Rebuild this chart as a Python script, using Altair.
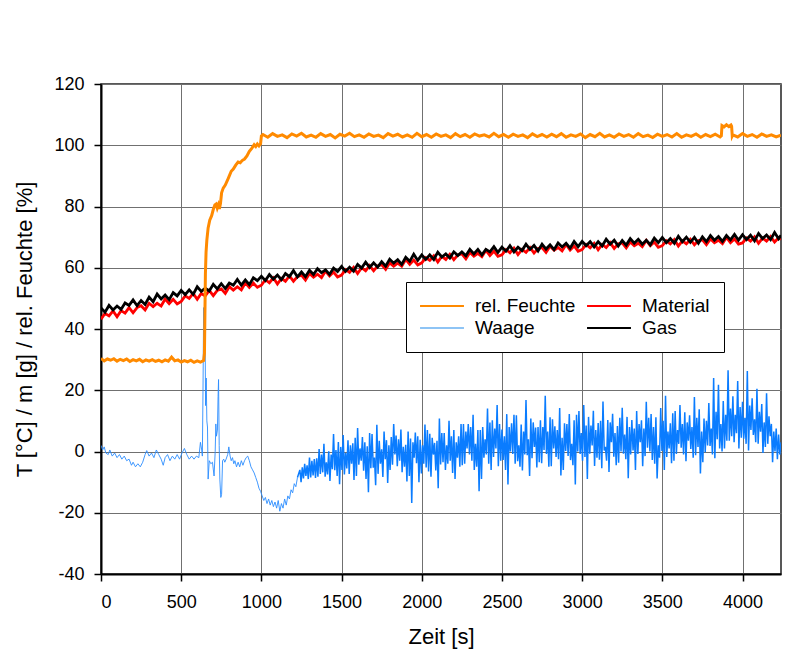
import altair as alt
import pandas as pd

# ---------------- data ----------------
# rel. Feuchte [%]
feuchte_pre = [30.4, 29.6, 30.2, 29.8, 30.3, 29.5, 30.1, 29.7, 30.2, 29.4,
               30.0, 29.6, 30.1, 29.3, 29.9, 29.5, 30.0, 29.4, 29.8, 29.3,
               29.9, 29.5, 30.8, 29.6, 29.9, 29.2, 29.7, 29.3, 29.8, 29.1,
               29.6, 29.2, 29.7]                      # t = 0 .. 640, every 20 s
feuchte_ramp_t = [645, 648, 651, 655, 660, 668, 678, 690, 700, 710, 718, 725, 732, 738,
                  745, 752, 762, 775, 788, 800, 812, 825, 840, 855, 868, 880, 895, 910,
                  925, 940, 955, 965, 975, 985, 995, 1000]
feuchte_ramp_v = [32.0, 45.0, 58.0, 65.0, 69.0, 73.0, 75.5, 77.0, 79.0, 80.5, 80.8, 79.5, 80.5, 79.2,
                  81.0, 84.5, 86.0, 87.0, 88.5, 90.0, 91.5, 92.2, 93.5, 94.5, 94.3, 95.0, 95.5, 96.5,
                  98.0, 99.0, 100.2, 99.6, 100.4, 99.8, 100.5, 103.0]
feuchte_flat = [103.5, 102.6, 103.8, 102.9, 103.4, 102.5, 103.7, 103.0, 103.9, 102.7, 103.3, 102.6,
                103.8, 102.9, 103.5, 102.4, 103.6, 103.0, 103.9, 102.8, 103.4, 102.6, 103.7, 102.9,
                103.3, 102.5, 103.8, 103.0, 103.6, 102.7, 103.4, 102.6, 103.9, 102.8, 103.5, 102.6,
                103.7, 102.9, 103.4, 102.5, 103.8, 102.8, 103.5, 102.6, 103.7, 103.0, 103.4, 102.7,
                103.9, 102.8, 103.5, 102.6, 103.6, 102.9, 103.4, 102.5, 103.7, 102.8, 103.5, 102.7,
                103.6, 102.8, 103.8, 102.6, 103.4, 102.9, 103.7, 102.5, 103.5, 102.8, 103.9, 102.7,
                103.4, 102.6, 103.7, 102.9, 103.5, 102.6, 103.8, 102.8, 103.3, 102.5, 103.6, 102.9,
                103.5, 102.7, 103.8, 102.6, 103.4, 102.9, 103.7, 102.6, 103.5, 102.8, 103.6, 102.7]  # t = 1010 .. 3860, every 30 s
feuchte_step_t = [3868, 3872, 3885, 3900, 3915, 3928, 3932, 3936]
feuchte_step_v = [103.1, 106.4, 106.0, 106.7, 106.1, 106.6, 106.2, 103.0]
feuchte_post = [103.4, 102.7, 103.8, 102.9, 103.5, 102.6, 103.7, 102.9, 103.4, 102.7, 103.3]  # t = 3940 .. 4240

# Gas [°C], every 25 s from 0 to 4225, then 4240
gas = [46.9, 45.5, 47.7, 46.2, 47.5, 46.4, 48.5, 47.7, 49.5, 47.6,
       49.3, 48.0, 50.4, 48.9, 51.4, 49.8, 51.1, 49.6, 51.9, 50.8,
       52.6, 51.2, 52.8, 51.3, 53.8, 52.3, 53.3, 52.4, 54.6, 53.1,
       54.8, 53.2, 55.0, 54.3, 56.2, 54.3, 56.0, 54.5, 56.7, 55.8,
       57.2, 55.8, 57.8, 56.3, 57.6, 56.1, 58.1, 57.1, 59.1, 57.0,
       58.6, 57.1, 59.2, 57.8, 59.7, 58.4, 59.3, 57.8, 59.9, 58.8,
       60.4, 58.8, 60.2, 58.9, 61.1, 59.9, 61.8, 60.1, 61.6, 60.2,
       62.0, 60.5, 62.8, 61.5, 62.6, 61.1, 63.4, 62.1, 64.4, 62.4,
       64.2, 62.7, 64.2, 62.7, 65.1, 63.5, 64.5, 63.2, 65.2, 64.0,
       65.2, 63.9, 66.0, 64.5, 66.0, 64.2, 66.0, 65.2, 66.9, 65.0,
       66.7, 65.4, 67.2, 65.2, 66.7, 65.6, 67.7, 66.0, 67.3, 65.5,
       67.7, 66.1, 67.5, 65.9, 68.1, 66.8, 68.0, 66.4, 68.6, 66.9,
       68.6, 67.2, 68.5, 66.8, 68.5, 67.1, 69.3, 67.7, 69.0, 67.1,
       68.9, 67.4, 69.5, 68.0, 69.3, 67.7, 69.0, 67.5, 69.7, 68.2,
       69.9, 68.2, 69.5, 68.0, 70.3, 68.5, 70.0, 68.3, 69.9, 68.0,
       70.1, 68.5, 70.5, 69.0, 70.2, 68.6, 70.5, 69.1, 70.9, 69.0,
       70.8, 69.2, 70.6, 68.8, 71.2, 69.5, 70.7, 69.2, 71.5, 69.5]
gas_end = 70.6

# Material [°C], same time grid
material = [43.2, 45.1, 44.3, 45.9, 44.0, 46.0, 45.2, 47.0, 45.3, 47.0,
            47.6, 46.2, 48.4, 47.3, 48.4, 47.5, 49.8, 48.3, 49.7, 48.2,
            49.0, 50.8, 50.0, 51.6, 49.7, 51.6, 50.8, 52.6, 50.9, 52.6,
            53.1, 51.6, 53.8, 52.7, 53.8, 52.8, 55.1, 53.6, 55.0, 53.6,
            54.3, 56.1, 55.1, 56.7, 54.7, 56.5, 55.6, 57.3, 55.6, 57.1,
            57.6, 56.0, 58.1, 56.9, 57.9, 56.8, 58.9, 57.3, 58.6, 57.0,
            57.6, 59.4, 58.5, 60.1, 58.1, 60.0, 59.0, 60.7, 59.0, 60.6,
            61.0, 59.5, 61.6, 60.5, 61.5, 60.5, 62.7, 61.1, 62.5, 60.9,
            61.6, 63.3, 62.4, 63.9, 61.9, 63.7, 62.7, 64.4, 62.6, 64.2,
            64.5, 62.9, 65.0, 63.8, 64.7, 63.6, 65.7, 64.0, 65.4, 63.7,
            64.2, 65.9, 64.9, 66.4, 64.3, 66.0, 65.0, 66.6, 64.8, 66.3,
            66.6, 65.0, 67.0, 65.7, 66.6, 65.5, 67.6, 65.8, 67.1, 65.4,
            65.9, 67.6, 66.5, 68.0, 65.9, 67.6, 66.6, 68.2, 66.3, 67.8,
            68.1, 66.5, 68.4, 67.2, 68.0, 66.9, 68.9, 67.2, 68.4, 66.7,
            67.2, 68.8, 67.8, 69.2, 67.1, 68.8, 67.8, 69.3, 67.5, 68.9,
            69.1, 67.5, 69.4, 68.2, 69.0, 67.9, 69.9, 68.2, 69.4, 67.7,
            68.1, 69.7, 68.7, 70.1, 68.0, 69.7, 68.7, 70.2, 68.4, 69.8]
material_end = 69.3

# Waage [g]
waage_early = [
    (0, 2.0), (10, 0.5), (20, 1.5), (30, -0.5), (45, -1.0), (55, 0.5), (70, -1.5), (85, -0.5), (100, -2.0), (115, -1.0),
    (130, -2.5), (145, -1.5), (160, -3.0), (175, -2.5), (190, -4.5), (200, -3.5), (215, -5.0), (230, -4.0), (245, -5.0), (260, -3.5),
    (275, -1.0), (285, 0.3), (300, -1.5), (315, -0.5), (330, -2.0), (345, 0.5), (360, -1.0), (375, -2.5), (388, -4.5), (400, -2.0),
    (415, -1.0), (430, -3.0), (445, -1.5), (460, -2.5), (475, -1.0), (490, -2.5), (505, -0.5), (520, 1.0), (535, -1.0), (550, -2.5),
    (565, -1.5), (580, -2.5), (595, -1.5), (610, -2.0), (620, 3.0), (628, 0.5), (632, -1.5), (636, 20.0), (640, 47.0), (644, 30.0),
    (648, 48.0), (652, 15.0), (656, 24.0), (660, 10.0), (664, 8.0), (668, -9.0), (675, -3.0), (685, -4.0), (695, -3.5), (705, -8.0),
    (712, 0.0), (716, 9.0), (720, 5.0), (726, 7.0), (730, 18.0), (733, 23.5), (737, 2.0), (741, -9.0), (747, -15.0), (752, -14.0),
    (758, -3.0), (765, -2.5), (772, -3.5), (780, -2.5), (790, -1.0), (797, 1.5), (805, -1.5), (812, -3.0), (820, -2.0), (828, -4.0),
    (835, -3.0), (845, -5.0), (855, -3.5), (865, -5.0), (875, -3.0), (885, -4.5), (895, -3.0), (905, -2.0), (915, -1.5), (925, -3.0),
    (935, -5.0), (945, -6.0), (955, -7.0), (965, -8.5), (975, -10.0), (985, -12.0), (995, -13.0), (1005, -14.5), (1015, -16.0), (1025, -15.0),
    (1035, -17.0), (1045, -15.5), (1055, -17.5), (1065, -16.0), (1075, -18.0), (1085, -16.5), (1095, -18.5), (1105, -16.0), (1115, -19.5), (1125, -17.0),
    (1135, -18.5), (1145, -15.5), (1155, -17.5), (1165, -14.5), (1175, -15.5), (1185, -12.5), (1195, -13.5), (1205, -10.5), (1215, -11.5), (1225, -8.5),
]
# readings every 7.5 s from t = 1240 to 4232.5 (10 blocks of 300 s)
waage_noisy = [
    -6, -10, -5.2, -8.8, -4, -8, -4.5, -9.0, -2, -8.5, -3.0, -7.8, -2.5, -8.6, -2.2, -8.2, 0.8, -7.3, -1.0, -6.8,
    2.5, -8.2, -3.5, -7.5, 0.1, -9.6, -1.0, -5.8, 5.7, -6.1, 0.5, -8.0, 3.1, -10.7, 1.5, -6.0, 5.4, -7.5, -0.5, -5.5,

    3.7, -7.3, 2.0, -4.0, 2.7, -9.3, 4.5, -8.0, 7.7, -4.3, 1.0, -3.0, 4.7, -6.3, 3.0, -9.0, 1.7, -13.3, 6.0, -5.5,
    5.7, -5.3, -2.0, -11.0, 8.7, -7.3, 3.5, -4.0, 0.7, -8.3, 6.5, -2.5, 3.7, -10.3, 2.0, -6.0, 4.7, -4.3, 9.0, -1.0,

    5.2, -4.8, 4.0, -3.0, 7.2, -6.8, 1.5, -5.0, 2.2, -9.8, 6.5, -8.0, 4.2, -16.8, 3.0, -2.0, 6.2, -3.8, 5.0, -10.0,
    3.8, -7.2, 2.0, -4.0, 8.8, -5.2, 7.0, -6.5, 5.8, -8.2, 4.5, -1.0, 2.8, -6.2, 3.5, -12.0, 10.8, -4.2, 6.0, -3.5,

    6, -6, 2.0, -4.0, 10, -3, 5.0, -7.0, 7, -9, 3.0, -2.0, 5, -5, 9.0, -4.5, 9, -4, 6.5, 1.0,
    9, -1, 8.0, -3.0, 12, -6, 2.5, -5.0, 7, -13, 7.0, -9.0, 8, -2, 4.0, -1.0, 14, -4, 9.5, -6.0,

    10.2, -1.8, 7.5, 1.0, 15.2, -4.8, 9.0, -3.0, 7.2, -2.8, 5.0, -6.0, 12.2, -10.8, 8.0, 0.0, 9.2, -0.8, 12.0, -4.0,
    11.8, -3.2, 2.0, -5.0, 8.8, -6.2, 6.5, -1.0, 16.8, -1.2, 4.0, -8.0, 10.8, -2.2, 9.5, 1.5, 7.8, -5.2, 8.0, -3.5,

    10.2, -3.8, 8.0, 0.5, 18.2, -0.8, 6.5, -5.0, 11.2, -4.8, 10.5, 1.0, 8.2, -1.8, 7.0, -2.5, 14.2, -7.8, 4.5, -6.0,
    9.2, 0.2, 9.0, -1.5, 12.2, -2.8, 2.5, -4.5, 10.2, -10.8, 12.0, 0.0, 13.2, -0.8, 6.0, -3.0, 15.2, -1.8, 8.5, -9.0,

    11.3, -0.7, 8.5, 2.0, 13.3, -4.7, 7.0, -2.0, 9.3, -2.7, 10.0, -5.5, 16.3, 0.3, 1.5, -3.0, 10.3, -6.7, 9.5, 3.0,
    12.3, -1.7, 6.0, -4.5, 8.3, -3.7, 11.0, 0.0, 14.3, -0.7, 5.5, -2.5, 11.3, -8.7, 8.0, -1.0, 10.3, 0.3, 7.5, -6.0,

    13.2, -0.8, 9.0, 3.0, 10.2, -4.8, 7.5, -1.5, 16.2, 1.2, 11.0, 0.0, 12.2, -2.8, 8.0, -4.0, 11.2, -8.8, 2.0, -2.0,
    14.2, 0.2, 10.0, -6.0, 18.2, -1.8, 6.5, 1.0, 9.2, -3.8, 12.5, -3.0, 13.2, -0.8, 7.0, 2.5, 15.2, 1.2, 9.0, -1.0,

    12.8, -3.2, 9.5, 3.5, 11.8, 0.8, 8.0, -2.0, 17.8, -1.2, 11.0, 1.5, 13.8, -7.2, 6.5, -3.5, 10.8, -0.2, 10.0, 2.0,
    15.8, 1.8, 7.5, -1.0, 24.0, -2.2, 13.0, 4.0, 21.8, 1.0, 9.0, 0.0, 16.5, 1.0, 12.0, 3.5, 26.5, 3.5, 14.0, 5.0,

    18, 3, 12.0, 6.0, 23, 1, 14.5, 4.5, 16.2, 4.2, 11.0, 2.5, 26.3, 0.3, 15.0, 7.0, 17.4, 5.4, 10.5, 3.0,
    20.5, 2.5, 13.0, 6.5, 15.5, -0.5, 9.5, 1.5, 19, 2.5, 11.5, 5.0, 9, -3.5, 6.5, 0.0, 7.5, -2.5, 5.5, -1.0,
]
waage_tail = [(4240, 3.0)]

# legend order is filled column by column: rel. Feuchte / Waage | Material / Gas
series_names = ["rel. Feuchte", "Waage", "Material", "Gas"]
series_colors = ["#ff8a00", "#8ec4f5", "#ff0000", "#000000"]


def grid(start, step, vals):
    return [start + step * i for i in range(len(vals))]


feu_t = (grid(0, 20, feuchte_pre) + feuchte_ramp_t + grid(1010, 30, feuchte_flat)
         + feuchte_step_t + grid(3940, 30, feuchte_post))
feu_v = feuchte_pre + feuchte_ramp_v + feuchte_flat + feuchte_step_v + feuchte_post
df_feu = pd.DataFrame({"t": feu_t, "v": feu_v, "s": "rel. Feuchte"})

df_gas = pd.DataFrame({"t": grid(0, 25, gas) + [4240], "v": gas + [gas_end], "s": "Gas"})
df_mat = pd.DataFrame({"t": grid(0, 25, material) + [4240], "v": material + [material_end], "s": "Material"})

df_w1 = pd.DataFrame({"t": [p[0] for p in waage_early], "v": [p[1] for p in waage_early]})
w2_t = [waage_early[-1][0]] + grid(1240, 7.5, waage_noisy) + [p[0] for p in waage_tail]
w2_v = [waage_early[-1][1]] + waage_noisy + [p[1] for p in waage_tail]
df_w2 = pd.DataFrame({"t": w2_t, "v": w2_v})

# ---------------- chart ----------------
x_enc = alt.X("t:Q",
              scale=alt.Scale(domain=[0, 4240], nice=False, zero=False),
              axis=alt.Axis(values=list(range(0, 4001, 500)), title="Zeit [s]",
                            labelExpr="'' + datum.value",
                            labelPadding=12, titleY=69, titleBaseline="alphabetic"))
y_enc = alt.Y("v:Q",
              scale=alt.Scale(domain=[-40, 120], nice=False, zero=False),
              axis=alt.Axis(values=list(range(-40, 121, 20)),
                            title="T [°C] / m [g] / rel. Feuchte [%]",
                            labelExpr="'' + datum.value",
                            labelPadding=10, titleX=-70, titleBaseline="alphabetic"))

legend = alt.Legend(title=None, orient="none", legendX=305, legendY=198, columns=2,
                    symbolType="M-2.44,0H2.44", symbolSize=324, symbolStrokeWidth=2,
                    symbolOffset=12,
                    labelFont="Liberation Sans", labelFontSize=19, labelColor="black",
                    labelOffset=23, columnPadding=7, rowPadding=2, padding=14,
                    strokeColor="black", fillColor="white", labelLimit=300)
color_enc = alt.Color("s:N", scale=alt.Scale(domain=series_names, range=series_colors), legend=legend)

waage_early_layer = alt.Chart(df_w1).mark_line(color="#2a8cff", strokeWidth=0.9, clip=True).encode(
    x=x_enc, y=y_enc, order="t:Q")
waage_noisy_layer = alt.Chart(df_w2).mark_line(color="#0a7cff", strokeWidth=1.5, clip=True).encode(
    x=x_enc, y=y_enc, order="t:Q")
mat_layer = alt.Chart(df_mat).mark_line(strokeWidth=2.8, clip=True).encode(
    x=x_enc, y=y_enc, color=color_enc, order="t:Q")
gas_layer = alt.Chart(df_gas).mark_line(strokeWidth=2.8, clip=True).encode(
    x=x_enc, y=y_enc, color=color_enc, order="t:Q")
feu_layer = alt.Chart(df_feu).mark_line(strokeWidth=3.0, clip=True).encode(
    x=x_enc, y=y_enc, color=color_enc, order="t:Q")

chart = alt.layer(waage_early_layer, waage_noisy_layer, mat_layer, gas_layer, feu_layer).properties(
    width=680, height=490,
    padding={"left": 101, "top": 84, "right": 25, "bottom": 82},
    autosize=alt.AutoSizeParams(type="none"),
    background="white",
).configure_view(
    stroke="#222222", strokeWidth=1.5
).configure_axis(
    grid=True, gridColor="#707070", gridWidth=1,
    domainColor="black", domainWidth=2,
    tickColor="black", tickWidth=1.5, tickSize=7,
    labelFont="Liberation Sans", labelFontSize=18, labelColor="black",
    titleFont="Liberation Sans", titleFontSize=22, titleFontWeight="normal", titleColor="black",
)

chart.save("out.html", embed_options={"renderer": "svg", "actions": False})
